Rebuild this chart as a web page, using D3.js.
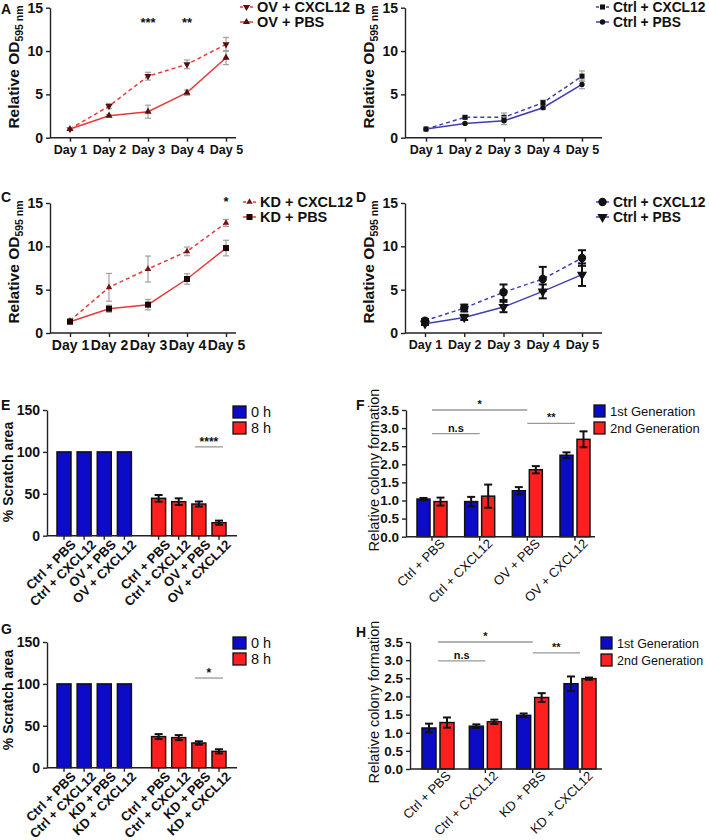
<!DOCTYPE html>
<html><head><meta charset="utf-8">
<script src="https://cdn.jsdelivr.net/npm/d3@7"></script>
<style>
body{margin:0;background:#fff}
svg{display:block}
text{font-family:"Liberation Sans",Arial,Helvetica,sans-serif;fill:#111}
</style></head>
<body>
<svg id="c" width="709" height="840"></svg>
<script>
// ---------- DATA ----------
const days = ["Day 1", "Day 2", "Day 3", "Day 4", "Day 5"];
const odTicks = [0, 5, 10, 15];

// Panel A
const aCxcl = [1.0, 3.65, 7.1, 8.46, 10.77];
const aCxclErr = [0.15, 0.3, 0.45, 0.5, 0.8];
const aPbs = [1.0, 2.54, 3.0, 5.2, 9.23];
const aPbsErr = [0.15, 0.12, 0.75, 0.3, 0.8];
const aStars = [{day: "Day 3", text: "***", v: 12.8}, {day: "Day 4", text: "**", v: 12.8}];
// Panel B
const bCxcl = [1.0, 2.35, 2.35, 4.04, 7.1];
const bCxclErr = [0.1, 0.1, 0.5, 0.3, 0.6];
const bPbs = [1.0, 1.65, 1.96, 3.46, 6.15];
const bPbsErr = [0.1, 0.1, 0.45, 0.2, 0.5];
// Panel C
const cCxcl = [1.42, 5.27, 7.38, 9.42, 12.7];
const cCxclErr = [0.2, 1.6, 1.5, 0.5, 0.4];
const cPbs = [1.3, 2.8, 3.27, 6.23, 9.8];
const cPbsErr = [0.2, 0.4, 0.6, 0.6, 0.9];
const cStars = [{day: "Day 5", text: "*", v: 14.6}];
// Panel D
const dCxcl = [1.42, 2.88, 4.7, 6.23, 8.65];
const dCxclErr = [0.2, 0.4, 0.9, 1.4, 0.9];
const dPbs = [1.08, 1.8, 3.0, 4.8, 6.73];
const dPbsErr = [0.15, 0.3, 0.6, 0.8, 1.3];

// Panel E / G (scratch)
const eCats = ["Ctrl + PBS", "Ctrl + CXCL12", "OV + PBS", "OV + CXCL12"];
const gCats = ["Ctrl + PBS", "Ctrl + CXCL12", "KD + PBS", "KD + CXCL12"];
const scratchTicks = [0, 50, 100, 150];
const e0h = [100, 100, 100, 100];
const e8h = [44.6, 40.6, 37.8, 15.5];
const e8hErr = [4, 4, 3, 2.5];
const g0h = [100, 100, 100, 100];
const g8h = [37.1, 35.9, 29.5, 19.5];
const g8hErr = [3, 3, 2, 2.5];
const eSig = "****";
const gSig = "*";

// Panel F / H (colony)
const colonyTicks = [0, 0.5, 1.0, 1.5, 2.0, 2.5, 3.0, 3.5];
const fGen1 = [1.04, 0.97, 1.27, 2.25];
const fGen1Err = [0.03, 0.13, 0.1, 0.08];
const fGen2 = [0.97, 1.12, 1.85, 2.69];
const fGen2Err = [0.11, 0.32, 0.1, 0.22];
const hGen1 = [1.13, 1.18, 1.48, 2.35];
const hGen1Err = [0.12, 0.05, 0.05, 0.2];
const hGen2 = [1.28, 1.3, 1.97, 2.49];
const hGen2Err = [0.14, 0.06, 0.12, 0.03];
const fBrackets = [{a: 0, b: 2, v: 3.5, t: "*"}, {a: 0, b: 1, v: 2.85, t: "n.s"}, {a: 2, b: 3, v: 3.13, t: "**"}];
const hBrackets = [{a: 0, b: 2, v: 3.5, t: "*"}, {a: 0, b: 1, v: 2.98, t: "n.s"}, {a: 2, b: 3, v: 3.2, t: "**"}];
const genNames = ["1st Generation", "2nd Generation"];
const hourNames = ["0 h", "8 h"];

// ---------- STYLE ----------
const RED_LINE = "#e63a3a", BLUE_LINE = "#3f3fb3";
const BAR_BLUE = "#0b0bc8", BAR_RED = "#ff1f1f";
const svg = d3.select("#c");

function sym(type, size) {
  return d3.symbol().type(type).size(size)();
}

function panelLabel(t, x, y) {
  svg.append("text").attr("x", x).attr("y", y).attr("font-weight", "bold").attr("font-size", 14).text(t);
}

function styleAxis(g, fs, bold) {
  g.selectAll("path.domain").attr("stroke", "#222").attr("stroke-width", 1.4);
  g.selectAll(".tick line").attr("stroke", "#222").attr("stroke-width", 1.4);
  g.selectAll(".tick text").attr("font-size", fs).attr("font-weight", bold ? "bold" : "normal")
    .attr("fill", "#111").attr("font-family", '"Liberation Sans",Arial,sans-serif');
}

function linePanel(o) {
  const x = d3.scalePoint().domain(days).range([o.d1, o.d5]);
  const y = d3.scaleLinear().domain([0, 15]).range([o.yBot, o.yTop]);
  const gy = svg.append("g").attr("transform", `translate(${o.ax},0)`)
    .call(d3.axisLeft(y).tickValues(odTicks).tickSize(4).tickSizeOuter(0).tickPadding(3));
  styleAxis(gy, 14, true);
  const gx = svg.append("g").attr("transform", `translate(0,${o.yBot})`)
    .call(d3.axisBottom(x).tickSize(4).tickSizeOuter(0).tickPadding(3));
  gx.select("path.domain").attr("d", `M${o.ax},0H${o.axEnd}`);
  styleAxis(gx, o.xfs, true);
  const lab = svg.append("text").attr("transform", `translate(${o.lx},${o.ly}) rotate(-90)`)
    .attr("text-anchor", "middle").attr("font-weight", "bold").attr("font-size", 15.5);
  lab.append("tspan").text("Relative OD");
  lab.append("tspan").attr("font-size", 10.5).attr("dy", 4).text("595 nm");

  const line = d3.line().x((d, i) => x(days[i])).y(d => y(d));
  o.series.forEach((s, k) => {
    svg.append("path").datum(s.vals).attr("d", line).attr("fill", "none")
      .attr("stroke", s.lc).attr("stroke-width", 1.5).attr("stroke-dasharray", s.dash ? "4,3" : null);
    s.vals.forEach((v, i) => {
      const cx = x(days[i]);
      const g = svg.append("g").attr("stroke", s.ec).attr("stroke-width", s.ew);
      g.append("line").attr("x1", cx).attr("x2", cx).attr("y1", y(v - s.errs[i])).attr("y2", y(v + s.errs[i]));
      g.append("line").attr("x1", cx - s.cap).attr("x2", cx + s.cap).attr("y1", y(v - s.errs[i])).attr("y2", y(v - s.errs[i]));
      g.append("line").attr("x1", cx - s.cap).attr("x2", cx + s.cap).attr("y1", y(v + s.errs[i])).attr("y2", y(v + s.errs[i]));
    });
    svg.selectAll(null).data(s.vals).enter().append("path")
      .attr("d", sym(s.sym, s.size))
      .attr("transform", (d, i) => `translate(${x(days[i])},${y(d)})` + (s.down ? " rotate(180)" : ""))
      .attr("fill", s.mc);
    const ly = o.legY + k * o.legDy;
    svg.append("line").attr("x1", o.legX).attr("x2", o.legX + 13).attr("y1", ly).attr("y2", ly)
      .attr("stroke", s.lc).attr("stroke-width", 1.5).attr("stroke-dasharray", s.dash ? "3,2" : null);
    svg.append("path").attr("d", sym(s.sym, s.size))
      .attr("transform", `translate(${o.legX + 6.5},${ly})` + (s.down ? " rotate(180)" : "")).attr("fill", s.mc);
    svg.append("text").attr("x", o.legX + 17).attr("y", ly + 5).attr("font-weight", "bold").attr("font-size", o.legFs).text(s.name);
  });
  (o.stars || []).forEach(st => {
    svg.append("text").attr("x", x(st.day)).attr("y", y(st.v)).attr("text-anchor", "middle")
      .attr("font-weight", "bold").attr("font-size", 13).text(st.text);
  });
}

const tri = d3.symbolTriangle, sq = d3.symbolSquare, circ = d3.symbolCircle;

linePanel({d1: 70, d5: 226, ax: 50, axEnd: 236, yTop: 7.7, yBot: 137.7, xfs: 12.5, lx: 19, ly: 67,
  legX: 240, legY: 7, legDy: 15, legFs: 14.5,
  series: [
    {name: "OV + CXCL12", vals: aCxcl, errs: aCxclErr, dash: true, sym: tri, down: true, size: 22, mc: "#5a0d0d", lc: RED_LINE, ec: "#a0a0a0", ew: 1.2, cap: 3},
    {name: "OV + PBS", vals: aPbs, errs: aPbsErr, dash: false, sym: tri, down: false, size: 22, mc: "#5a0d0d", lc: RED_LINE, ec: "#a0a0a0", ew: 1.2, cap: 3}
  ], stars: aStars});

linePanel({d1: 426, d5: 582, ax: 405, axEnd: 602, yTop: 7.7, yBot: 137.7, xfs: 12.5, lx: 374, ly: 67,
  legX: 596, legY: 7, legDy: 15, legFs: 13.8,
  series: [
    {name: "Ctrl + CXCL12", vals: bCxcl, errs: bCxclErr, dash: true, sym: sq, size: 26, mc: "#111", lc: BLUE_LINE, ec: "#a0a0a0", ew: 1.2, cap: 3},
    {name: "Ctrl + PBS", vals: bPbs, errs: bPbsErr, dash: false, sym: circ, size: 22, mc: "#111", lc: BLUE_LINE, ec: "#a0a0a0", ew: 1.2, cap: 3}
  ]});

linePanel({d1: 70, d5: 226, ax: 50, axEnd: 236, yTop: 203, yBot: 333, xfs: 14, lx: 19, ly: 262,
  legX: 243, legY: 202, legDy: 15, legFs: 14.5,
  series: [
    {name: "KD + CXCL12", vals: cCxcl, errs: cCxclErr, dash: true, sym: tri, down: false, size: 18, mc: "#7a1010", lc: RED_LINE, ec: "#a0a0a0", ew: 1.2, cap: 3},
    {name: "KD + PBS", vals: cPbs, errs: cPbsErr, dash: false, sym: sq, size: 36, mc: "#1a0505", lc: RED_LINE, ec: "#a0a0a0", ew: 1.2, cap: 3}
  ], stars: cStars});

linePanel({d1: 425, d5: 582, ax: 405, axEnd: 602, yTop: 203, yBot: 333, xfs: 12.5, lx: 374, ly: 262,
  legX: 596, legY: 202, legDy: 15, legFs: 13.8,
  series: [
    {name: "Ctrl + CXCL12", vals: dCxcl, errs: dCxclErr, dash: true, sym: circ, size: 55, mc: "#111", lc: BLUE_LINE, ec: "#111", ew: 2, cap: 4},
    {name: "Ctrl + PBS", vals: dPbs, errs: dPbsErr, dash: false, sym: tri, down: true, size: 45, mc: "#111", lc: BLUE_LINE, ec: "#111", ew: 2, cap: 4}
  ]});

// ---------- scratch panels ----------
function scratchPanel(o) {
  const y = d3.scaleLinear().domain([0, 150]).range([o.yBot, o.yTop]);
  const x = d3.scaleLinear().domain([0, 7.7]).range([o.c0, o.c7]);
  const bw = 14;
  const gy = svg.append("g").attr("transform", `translate(${o.ax},0)`)
    .call(d3.axisLeft(y).tickValues(scratchTicks).tickSize(4).tickSizeOuter(0).tickPadding(3));
  styleAxis(gy, 14, true);
  const groups = [{vals: o.v0, errs: null, col: BAR_BLUE, off: 0}, {vals: o.v8, errs: o.e8, col: BAR_RED, off: 4.7}];
  groups.forEach(gp => {
    gp.vals.forEach((v, i) => {
      const cx = x(i + gp.off);
      if (gp.errs) {
        const e = gp.errs[i];
        const g = svg.append("g").attr("stroke", "#111").attr("stroke-width", 2);
        g.append("line").attr("x1", cx).attr("x2", cx).attr("y1", y(v)).attr("y2", y(v + e));
        g.append("line").attr("x1", cx - 4).attr("x2", cx + 4).attr("y1", y(v + e)).attr("y2", y(v + e));
      }
      svg.append("rect").attr("x", cx - bw / 2).attr("width", bw).attr("y", y(v)).attr("height", y(0) - y(v))
        .attr("fill", gp.col).attr("stroke", "#111").attr("stroke-width", 1.5);
      if (gp.errs) {
        const e = gp.errs[i];
        svg.append("line").attr("x1", cx).attr("x2", cx).attr("y1", y(v)).attr("y2", y(v - e)).attr("stroke", "#111").attr("stroke-width", 2);
        svg.append("line").attr("x1", cx - 4).attr("x2", cx + 4).attr("y1", y(v - e)).attr("y2", y(v - e)).attr("stroke", "#111").attr("stroke-width", 2);
      }
      svg.append("text").attr("transform", `translate(${cx + 6},${o.yBot + 3}) rotate(-45)`)
        .attr("text-anchor", "end").attr("dy", "0.72em").attr("font-weight", "bold").attr("font-size", 13).text(o.cats[i]);
    });
  });
  svg.append("line").attr("x1", o.ax).attr("x2", o.axEnd).attr("y1", o.yBot).attr("y2", o.yBot).attr("stroke", "#222").attr("stroke-width", 1.4);
  o.cats.forEach((c, i) => {
    [0, 4.7].forEach(off => svg.append("line").attr("x1", x(i + off)).attr("x2", x(i + off)).attr("y1", o.yBot).attr("y2", o.yBot + 4).attr("stroke", "#222").attr("stroke-width", 1.4));
  });
  svg.append("text").attr("transform", `translate(${o.lx},${o.ly}) rotate(-90)`).attr("text-anchor", "middle")
    .attr("font-weight", "bold").attr("font-size", 14).text("% Scratch area");
  [BAR_BLUE, BAR_RED].forEach((c, k) => {
    const ly = o.legY + k * 16;
    svg.append("rect").attr("x", o.legX).attr("y", ly).attr("width", 13).attr("height", 12).attr("fill", c).attr("stroke", "#111").attr("stroke-width", 1.3);
    svg.append("text").attr("x", o.legX + 18).attr("y", ly + 11).attr("font-size", 14.5).text(hourNames[k]);
  });
  const sx1 = x(2 + 4.7) - 4, sx2 = x(3 + 4.7) + 4, sy = y(o.sigV);
  svg.append("line").attr("x1", sx1).attr("x2", sx2).attr("y1", sy).attr("y2", sy).attr("stroke", "#999").attr("stroke-width", 1.3);
  svg.append("text").attr("x", (sx1 + sx2) / 2).attr("y", sy - 1).attr("text-anchor", "middle").attr("font-size", 12).attr("font-weight", "bold").text(o.sig);
}

scratchPanel({cats: eCats, v0: e0h, v8: e8h, e8: e8hErr, ax: 47, axEnd: 237, yTop: 410, yBot: 535.7, c0: 64, c7: 219,
  lx: 13, ly: 472, legX: 233, legY: 406, sig: eSig, sigV: 106});
scratchPanel({cats: gCats, v0: g0h, v8: g8h, e8: g8hErr, ax: 47, axEnd: 237, yTop: 642, yBot: 767.7, c0: 64, c7: 219,
  lx: 13, ly: 700, legX: 233, legY: 637, sig: gSig, sigV: 107});

// ---------- colony panels ----------
function colonyPanel(o) {
  const y = d3.scaleLinear().domain([0, 3.5]).range([o.yBot, o.yTop]);
  const x = d3.scalePoint().domain(o.cats).range([o.g0, o.g3]);
  const bw = o.bw;
  const gy = svg.append("g").attr("transform", `translate(${o.ax},0)`)
    .call(d3.axisLeft(y).tickValues(colonyTicks).tickFormat(d3.format(".1f")).tickSize(4).tickSizeOuter(0).tickPadding(3));
  styleAxis(gy, 13.5, true);
  const series = [{vals: o.g1, errs: o.g1e, col: BAR_BLUE, off: -o.half}, {vals: o.g2, errs: o.g2e, col: BAR_RED, off: o.half}];
  series.forEach(s => {
    s.vals.forEach((v, i) => {
      const cx = x(o.cats[i]) + s.off, e = s.errs[i];
      const g = svg.append("g").attr("stroke", "#111").attr("stroke-width", 2);
      g.append("line").attr("x1", cx).attr("x2", cx).attr("y1", y(v)).attr("y2", y(v + e));
      g.append("line").attr("x1", cx - 4).attr("x2", cx + 4).attr("y1", y(v + e)).attr("y2", y(v + e));
      svg.append("rect").attr("x", cx - bw / 2).attr("width", bw).attr("y", y(v)).attr("height", y(0) - y(v))
        .attr("fill", s.col).attr("stroke", "#111").attr("stroke-width", 1.5);
      const g2 = svg.append("g").attr("stroke", "#111").attr("stroke-width", 2);
      g2.append("line").attr("x1", cx).attr("x2", cx).attr("y1", y(v)).attr("y2", y(v - e));
      g2.append("line").attr("x1", cx - 4).attr("x2", cx + 4).attr("y1", y(v - e)).attr("y2", y(v - e));
    });
  });
  svg.append("line").attr("x1", o.ax).attr("x2", o.axEnd).attr("y1", o.yBot).attr("y2", o.yBot).attr("stroke", "#222").attr("stroke-width", 1.4);
  o.cats.forEach(c => {
    const cx = x(c);
    svg.append("line").attr("x1", cx).attr("x2", cx).attr("y1", o.yBot).attr("y2", o.yBot + 4).attr("stroke", "#222").attr("stroke-width", 1.4);
    svg.append("text").attr("transform", `translate(${cx + 7},${o.yBot + 1}) rotate(-45)`)
      .attr("text-anchor", "end").attr("dy", "0.72em").attr("font-size", 13).text(c);
  });
  svg.append("text").attr("transform", `translate(${o.lx},${o.ly}) rotate(-90)`).attr("text-anchor", "middle")
    .attr("font-size", 14.5).text("Relative colony formation");
  [BAR_BLUE, BAR_RED].forEach((c, k) => {
    const ly = o.legY + k * 17;
    svg.append("rect").attr("x", o.legX).attr("y", ly).attr("width", 11).attr("height", 12).attr("fill", c).attr("stroke", "#111").attr("stroke-width", 1.3);
    svg.append("text").attr("x", o.legX + 16).attr("y", ly + 11).attr("font-size", o.legFs).text(genNames[k]);
  });
  o.br.forEach(b => {
    const x1 = x(o.cats[b.a]), x2 = x(o.cats[b.b]), yy = y(b.v);
    svg.append("line").attr("x1", x1).attr("x2", x2).attr("y1", yy).attr("y2", yy).attr("stroke", "#999").attr("stroke-width", 1.3);
    svg.append("text").attr("x", (x1 + x2) / 2).attr("y", yy - 2).attr("text-anchor", "middle")
      .attr("font-size", 11).attr("font-weight", "bold").attr("fill", "#333").text(b.t);
  });
}

colonyPanel({cats: eCats, g1: fGen1, g1e: fGen1Err, g2: fGen2, g2e: fGen2Err, br: fBrackets,
  ax: 406, axEnd: 595, yTop: 410, yBot: 536.7, g0: 432, g3: 575, half: 8.5, bw: 13,
  lx: 379, ly: 470, legX: 594, legY: 405, legFs: 13});
colonyPanel({cats: gCats, g1: hGen1, g1e: hGen1Err, g2: hGen2, g2e: hGen2Err, br: hBrackets,
  ax: 410, axEnd: 602, yTop: 642, yBot: 769, g0: 438, g3: 580, half: 9, bw: 14,
  lx: 379, ly: 702, legX: 601, legY: 637, legFs: 12.5});

panelLabel("A", 1, 14);
panelLabel("B", 355, 14);
panelLabel("C", 1, 202);
panelLabel("D", 356, 202);
panelLabel("E", 1, 410);
panelLabel("F", 356, 410);
panelLabel("G", 1, 634);
panelLabel("H", 356, 637);
</script>
</body></html>
